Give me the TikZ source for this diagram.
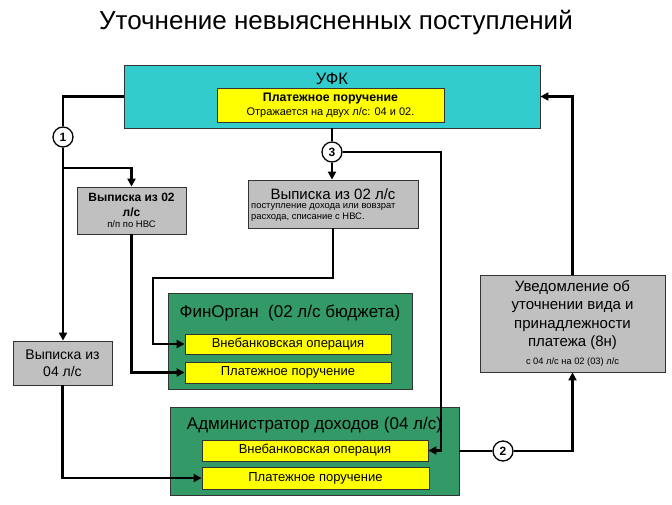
\documentclass[tikz,border=0pt]{standalone}
\usepackage{fontspec}
\setmainfont{Liberation Sans}
\usetikzlibrary{arrows.meta}
\definecolor{ufkcyan}{HTML}{33CCCC}
\definecolor{boxgreen}{HTML}{339966}
\definecolor{boxgray}{HTML}{C0C0C0}
\definecolor{boxyellow}{HTML}{FFFF00}
\tikzset{
  px/.style={x=1pt,y=-1pt},
  box/.style={draw=black!80,line width=0.8pt,inner sep=0pt,align=center},
  graybox/.style={box,fill=boxgray},
  greenbox/.style={box,fill=boxgreen},
  yellowbox/.style={box,fill=boxyellow,font=\fontsize{13}{15}\selectfont},
  num/.style={circle,draw=black,line width=1.3pt,fill=white,minimum size=20pt,inner sep=0pt,font=\fontsize{12}{12}\selectfont\bfseries},
  conn/.style={line width=2.6pt,draw=black,line cap=butt,line join=miter},
  arr/.style={conn,-{Triangle[length=8pt,width=8pt]}},
}
\begin{document}
\begin{tikzpicture}[px]
\useasboundingbox (0,0) rectangle (672,504);
\fill[white] (0,0) rectangle (672,504);
\node[font=\fontsize{26}{28}\selectfont] (title) at (336,23) {Уточнение невыясненных поступлений};

% УФК
\node[box,fill=ufkcyan,minimum width=416pt,minimum height=63pt] (ufk) at (332,96.5) {};
\node[font=\fontsize{16.5}{18}\selectfont] (ufklbl) at (332,79) {УФК};
\node[yellowbox,minimum width=227pt,minimum height=34pt,font=\fontsize{12.3}{15}\selectfont\bfseries] (ufkpp) at (330.5,105)
  {Платежное поручение\\[-1pt]\mdseries\fontsize{11}{12}\selectfont Отражается на двух л/с: 04 и 02.};

% circles
\node[num] (c1) at (63,137) {1};
\node[num] (c3) at (332,152) {3};
\node[num] (c2) at (503,451) {2};

% Выписка из 02 (left)
\node[graybox,minimum width=109pt,minimum height=47pt,font=\fontsize{12}{14.5}\selectfont\bfseries] (v02a) at (131.5,210.5)
  {Выписка из 02\\л/с\\[-3pt]\mdseries\fontsize{9.5}{10}\selectfont п/п по НВС};

% Выписка из 02 (middle)
\node[graybox,minimum width=170pt,minimum height=48pt] (v02b) at (333,204) {};
\node[font=\fontsize{15}{17}\selectfont] (v02blbl) at (333,194) {Выписка из 02 л/с};
\node[align=left,inner sep=0pt,anchor=north west,font=\fontsize{9.4}{10.5}\selectfont] (v02bsub) at (251,203.5)
  {поступление дохода или вовзрат\\расхода, списание с НВС.};

% ФинОрган
\node[greenbox,minimum width=244pt,minimum height=96pt] (fin) at (290,341) {};
\node[font=\fontsize{17}{19}\selectfont] (finlbl) at (290,313) {ФинОрган\ \ (02 л/с бюджета)};
\node[yellowbox,minimum width=206pt,minimum height=20pt] (fin1) at (288,344) {Внебанковская операция};
\node[yellowbox,minimum width=206pt,minimum height=21pt] (fin2) at (288,372.5) {Платежное поручение};

% Выписка из 04
\node[graybox,minimum width=99pt,minimum height=44pt,font=\fontsize{14}{17}\selectfont] (v04) at (62.5,363)
  {Выписка из\\04 л/с};

% Администратор
\node[greenbox,minimum width=289pt,minimum height=88pt] (adm) at (314.5,451) {};
\node[font=\fontsize{17}{19}\selectfont] (admlbl) at (314.5,425) {Администратор доходов (04 л/с)};
\node[yellowbox,minimum width=226pt,minimum height=21pt] (adm1) at (315,450.5) {Внебанковская операция};
\node[yellowbox,minimum width=227pt,minimum height=22pt] (adm2) at (315.5,478) {Платежное поручение};

% Уведомление
\node[graybox,minimum width=185pt,minimum height=97pt,font=\fontsize{15}{18.3}\selectfont] (uv) at (572.5,323.5)
  {Уведомление об\\уточнении вида и\\принадлежности\\платежа (8н)\\[0pt]\fontsize{9.3}{10}\selectfont с 04 л/с на 02 (03) л/с};

% connectors
\coordinate (b1) at (63,168);
\coordinate (k1) at (153,278);
\coordinate (k2) at (441,152);

\draw[conn] (ufk.west) -| (c1.north);
\draw[arr] (c1.south) -- (c1.south |- v04.north);
\draw[arr] (b1) -| (v02a.north);
\draw[arr] (v02a.south) |- (fin2.west);
\draw[conn] (ufk.south) -- (c3.north);
\draw[arr] (c3.south) -- (c3.south |- v02b.north);
\draw[arr] (v02b.south) |- (k1) |- (fin1.west);
\draw[arr] (c3.east) -- (k2) |- (adm1.east);
\draw[arr] (v04.south) |- (adm2.west);
\draw[conn] (adm.east) -- (c2.west);
\draw[arr] (c2.east) -| (uv.south);
\draw[arr] (uv.north) |- (ufk.east);
\end{tikzpicture}
\end{document}
